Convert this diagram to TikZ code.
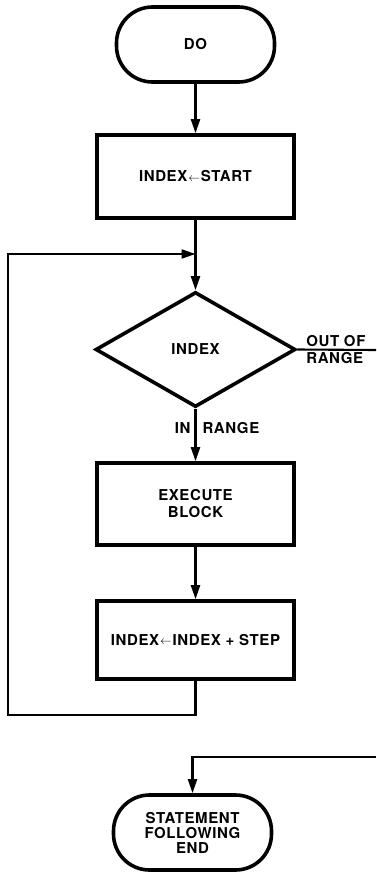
\documentclass[tikz,border=0pt]{standalone}
\usepackage{fontspec}
\setmainfont{TeX Gyre Heros}[LetterSpace=4]
\usetikzlibrary{shapes.geometric,arrows.meta}
\tikzset{
  chartfont/.style={font=\fontsize{15}{17}\selectfont\bfseries},
  term/.style={draw, chartfont, line width=3.6pt, rounded corners=36pt,
    minimum width=158pt, minimum height=75pt, align=center, inner sep=0pt},
  procbox/.style={draw, chartfont, line width=3.6pt, minimum width=197pt,
    align=center, inner sep=0pt},
  decide/.style={draw, chartfont, diamond, line width=3.6pt, minimum width=200pt,
    minimum height=115pt, inner sep=0pt},
  flow/.style={line width=2.1pt},
  flowarrow/.style={line width=2.1pt, -{Triangle[length=14pt,width=9pt]}},
  tag/.style={chartfont, inner sep=2pt}
}
\newcommand{\assignarrow}{\kern1pt\raisebox{0.5pt}{\scalebox{0.8}{$\leftarrow$}}\kern1pt}
\begin{document}
\begin{tikzpicture}[x=1pt,y=-1pt]
        \useasboundingbox (0,0) rectangle (376,872);
        \clip (0,0) rectangle (376,872);
        % Nodes
            \node[term] (do) at (195.5,44.5) {DO};
            \node[procbox, minimum height=83pt] (init) at (195.5,176.5) {INDEX\assignarrow START};
            \node[decide] (test) at (195.5,349.5) {INDEX};
            \node[procbox, minimum height=82pt] (exec) at (195.5,504) {EXECUTE\\BLOCK};
            \node[procbox, minimum height=78pt] (incr) at (195.5,640) {INDEX\assignarrow INDEX + STEP};
            \node[term] (after) at (192.5,832.5) {STATEMENT\\[-2pt]FOLLOWING\\[-2pt]END};
        % Helper points
            \coordinate (merge) at (195.5,254);
            \coordinate (loopcorner) at (8,715);
            \coordinate (exitright) at (376,350);
            \coordinate (backright) at (376,757);
        % Main flow
            \draw[flowarrow] (do) -- (init);
            \draw[flow] (init) -- (merge);
            \draw[flowarrow] (merge) -- (test);
            \draw[flowarrow] (test) -- node[pos=0.36, tag, anchor=east, xshift=-2pt] {IN}
                node[pos=0.36, tag, anchor=west, xshift=4pt] {RANGE} (exec);
            \draw[flowarrow] (exec) -- (incr);
        % Loop back
            \draw[flowarrow] (incr.south) |- (loopcorner) |- (merge);
        % Exit
            \draw[flow] (test.east) -- node[pos=0, tag, anchor=south west, xshift=6pt] {OUT OF}
                node[pos=0, tag, anchor=north west, xshift=6pt] {RANGE} (exitright);
            \draw[flowarrow] (backright) -| (after.north);
        \end{tikzpicture}
\end{document}
